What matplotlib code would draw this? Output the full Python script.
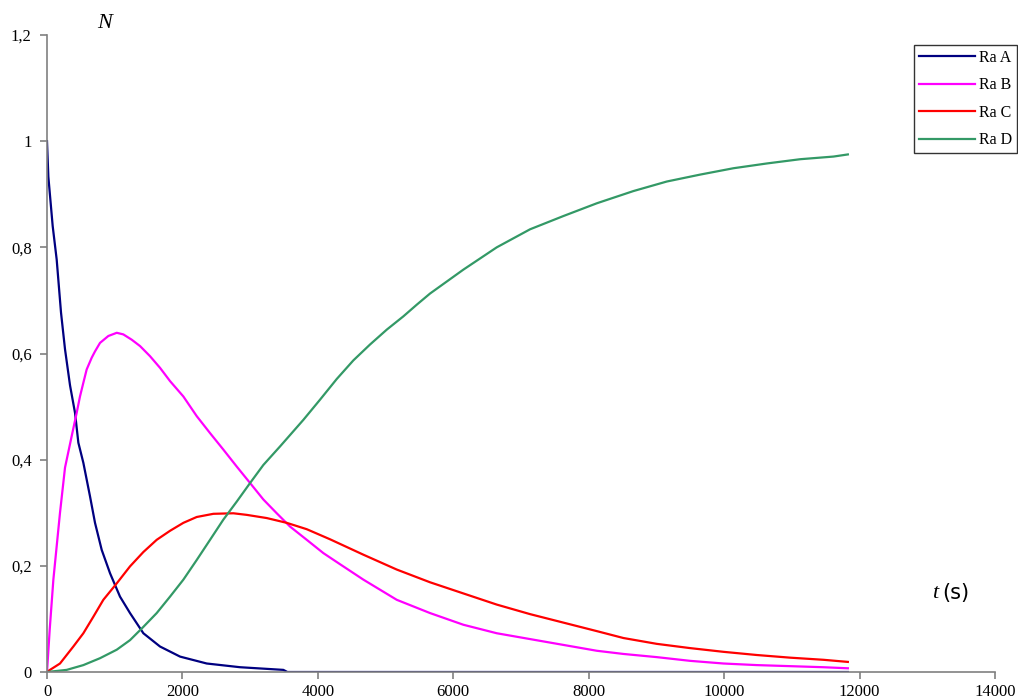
import matplotlib
matplotlib.use("Agg")
from matplotlib import pyplot as plt
from matplotlib.ticker import FuncFormatter

# values
t_a = [0, 20, 84, 143, 207, 266, 340, 414, 463, 537, 635, 709, 808, 931, 1078,
       1226, 1423, 1669, 1965, 2359, 2851, 3490, 3550, 11827]
ra_a = [1.0, 0.933, 0.840, 0.777, 0.677, 0.608, 0.540, 0.488, 0.432, 0.394, 0.331,
        0.281, 0.230, 0.186, 0.142, 0.111, 0.073, 0.048, 0.029, 0.016, 0.009,
        0.004, 0.0, 0.0]

t_b = [0, 40, 94, 192, 266, 364, 438, 487, 537, 586, 660, 709, 783, 906, 1030,
       1127, 1251, 1374, 1521, 1669, 1817, 2014, 2211, 2408, 2604, 2802, 2999,
       3195, 3393, 3589, 3836, 4081, 4328, 4672, 5165, 5657, 6149, 6642, 7134,
       7627, 8120, 8513, 9006, 9498, 9990, 10483, 10975, 11467, 11827]
ra_b = [0.0, 0.08, 0.174, 0.300, 0.385, 0.444, 0.488, 0.519, 0.545, 0.570, 0.592,
        0.604, 0.620, 0.633, 0.639, 0.636, 0.626, 0.614, 0.595, 0.573, 0.548,
        0.519, 0.482, 0.450, 0.419, 0.387, 0.356, 0.325, 0.299, 0.274, 0.249,
        0.224, 0.203, 0.174, 0.136, 0.111, 0.089, 0.073, 0.062, 0.051, 0.040,
        0.034, 0.028, 0.021, 0.016, 0.013, 0.011, 0.009, 0.007]

t_c = [0, 44, 192, 389, 537, 684, 832, 1030, 1226, 1423, 1620, 1817, 2014, 2211,
       2457, 2752, 2950, 3245, 3540, 3836, 4180, 4672, 5165, 5657, 6149, 6642,
       7134, 7627, 8120, 8513, 9006, 9498, 9990, 10483, 10975, 11467, 11827]
ra_c = [0.0, 0.004, 0.016, 0.048, 0.073, 0.104, 0.136, 0.167, 0.199, 0.226, 0.249,
        0.266, 0.281, 0.292, 0.298, 0.299, 0.296, 0.290, 0.281, 0.269, 0.250,
        0.221, 0.193, 0.169, 0.148, 0.127, 0.109, 0.093, 0.077, 0.064, 0.053,
        0.045, 0.038, 0.032, 0.027, 0.023, 0.019]

t_d = [0, 291, 537, 783, 1030, 1226, 1423, 1620, 1817, 2014, 2211, 2408, 2604,
       2802, 2999, 3195, 3442, 3786, 4032, 4279, 4524, 4771, 5018, 5263, 5461,
       5657, 6149, 6642, 7134, 7627, 8120, 8660, 9154, 9645, 10137, 10631, 11123,
       11615, 11827]
ra_d = [0.0, 0.004, 0.013, 0.026, 0.042, 0.060, 0.085, 0.111, 0.142, 0.174, 0.211,
        0.249, 0.287, 0.321, 0.356, 0.390, 0.425, 0.475, 0.513, 0.552, 0.587,
        0.617, 0.645, 0.670, 0.692, 0.713, 0.758, 0.800, 0.834, 0.859, 0.883,
        0.906, 0.924, 0.937, 0.949, 0.958, 0.966, 0.971, 0.975]

labels = ["Ra A", "Ra B", "Ra C", "Ra D"]
colors = ["#000080", "#FF00FF", "#FF0000", "#339966"]

plt.rcParams["font.family"] = ["Liberation Serif", "DejaVu Serif"]

fig = plt.figure(figsize=(10.18, 7), dpi=100)
ax = fig.add_axes([47 / 1018, 28 / 700, 948 / 1018, 637 / 700])

lines = []
for t, n, c, lab in zip([t_a, t_b, t_c, t_d], [ra_a, ra_b, ra_c, ra_d], colors, labels):
    ln, = ax.plot(t, n, color=c, lw=1.6, label=lab)
    lines.append(ln)

ax.set_xlim(0, 14000)
ax.set_ylim(0, 1.2)
ax.set_xticks(range(0, 14001, 2000))
ax.set_yticks([0, 0.2, 0.4, 0.6, 0.8, 1.0, 1.2])
ax.yaxis.set_major_formatter(FuncFormatter(lambda v, p: ("%g" % round(v, 1)).replace(".", ",")))

for s in ["top", "right"]:
    ax.spines[s].set_visible(False)
for s in ["left", "bottom"]:
    ax.spines[s].set_color("#808080")
    ax.spines[s].set_linewidth(1.2)
ax.tick_params(colors="#808080", labelcolor="black", labelsize=12, length=5, width=1.2)
ax.tick_params(axis="y", pad=6)
ax.tick_params(axis="x", pad=4)

fig.text(105 / 1018, 1 - 23 / 700, "N", style="italic", fontsize=16, ha="center", va="center")
fig.text(935 / 1018, 1 - 593 / 700, "t", style="italic", fontsize=16, ha="center", va="center")
fig.text(956 / 1018, 1 - 593 / 700, "(s)", fontsize=15, family="DejaVu Sans",
         ha="center", va="center")

leg = fig.legend(handles=lines, loc="upper right", bbox_to_anchor=(1017 / 1018, 1 - 45 / 700),
                 fontsize=11.5, frameon=True, fancybox=False, handlelength=3.5,
                 borderpad=0.3, labelspacing=0.72, handletextpad=0.25, borderaxespad=0)
leg.get_frame().set_edgecolor("black")
leg.get_frame().set_linewidth(1.0)

fig.savefig("out.png", dpi=100)
